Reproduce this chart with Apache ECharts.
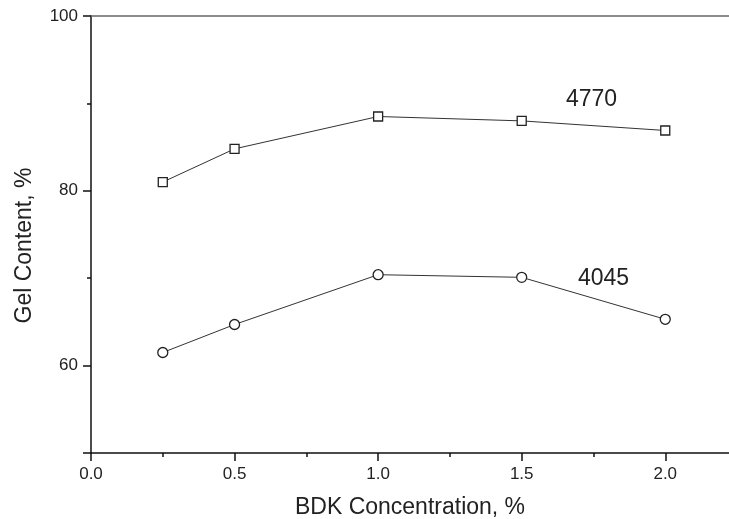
<!DOCTYPE html>
<html>
<head>
<meta charset="utf-8">
<script src="https://cdn.jsdelivr.net/npm/echarts@6/dist/echarts.min.js"></script>
<style>
  html, body { margin: 0; padding: 0; background: #fff; }
  #chart { width: 729px; height: 519px; }
</style>
</head>
<body>
<div id="chart"></div>
<script>
// BDK concentration (%) on the x axis
const concentrations = [0.25, 0.5, 1.0, 1.5, 2.0];
// Gel content (%) for each resin grade
const gel4770 = [81.0, 84.8, 88.5, 88.0, 86.9];
const gel4045 = [61.5, 64.7, 70.4, 70.1, 65.3];
// Axis ticks
const xMajorTicks = [0, 0.5, 1.0, 1.5, 2.0];
const xMinorTicks = [0.25, 0.75, 1.25, 1.75];
const yMajorTicks = [50, 60, 80, 100];
const yLabelTicks = [60, 80, 100];
const yMinorTicks = [70, 90];

const X_MAX = 2.222;
const FONT = 'Liberation Sans, Arial, sans-serif';
const chart = echarts.init(document.getElementById('chart'));

const pair = arr => concentrations.map((x, i) => [x, arr[i]]);

chart.setOption({
  animation: false,
  backgroundColor: '#fff',
  grid: { left: 91, right: 0, top: 16, bottom: 66, containLabel: false, outerBoundsMode: 'none' },
  xAxis: [
    {
      type: 'value', min: 0, max: X_MAX,
      name: 'BDK Concentration, %', nameLocation: 'middle', nameGap: 43,
      nameTextStyle: { fontFamily: FONT, fontSize: 23, color: '#222' },
      axisLine: { show: true, onZero: false, lineStyle: { color: '#111', width: 1.5 } },
      axisTick: { show: true, inside: false, length: 8, customValues: xMajorTicks, lineStyle: { color: '#111', width: 1.5 } },
      axisLabel: { customValues: xMajorTicks, margin: 13, fontFamily: FONT, fontSize: 17, color: '#222',
                   formatter: v => v.toFixed(1) },
      splitLine: { show: false }
    },
    {
      // short intermediate ticks
      type: 'value', min: 0, max: X_MAX, position: 'bottom',
      axisLine: { show: false },
      axisTick: { show: true, length: 4, customValues: xMinorTicks, lineStyle: { color: '#111', width: 1.5 } },
      axisLabel: { show: false },
      splitLine: { show: false }
    },
    {
      // top frame line
      type: 'value', min: 0, max: X_MAX, position: 'top',
      axisLine: { show: true, lineStyle: { color: '#666', width: 1.5 } },
      axisTick: { show: false }, axisLabel: { show: false }, splitLine: { show: false }
    }
  ],
  yAxis: [
    {
      type: 'value', min: 50, max: 100, interval: 10,
      name: 'Gel Content, %', nameLocation: 'middle', nameGap: 55, nameRotate: 90,
      nameTextStyle: { fontFamily: FONT, fontSize: 23, color: '#222', padding: [0, 22, 0, 0] },
      axisLine: { show: true, lineStyle: { color: '#111', width: 1.5 } },
      axisTick: { show: true, length: 8, customValues: yMajorTicks, lineStyle: { color: '#111', width: 1.5 } },
      axisLabel: { customValues: yLabelTicks, margin: 13, fontFamily: FONT, fontSize: 17, color: '#222' },
      splitLine: { show: false }
    },
    {
      type: 'value', min: 50, max: 100, position: 'left',
      axisLine: { show: false },
      axisTick: { show: true, length: 4, customValues: yMinorTicks, lineStyle: { color: '#111', width: 1.5 } },
      axisLabel: { show: false },
      splitLine: { show: false }
    }
  ],
  series: [
    {
      name: '4770', type: 'line', data: pair(gel4770),
      symbol: 'rect', symbolSize: 9,
      itemStyle: { color: '#fff', borderColor: '#222', borderWidth: 1.3 },
      lineStyle: { color: '#333', width: 1 },
      z: 3
    },
    {
      name: '4045', type: 'line', data: pair(gel4045),
      symbol: 'circle', symbolSize: 10,
      itemStyle: { color: '#fff', borderColor: '#222', borderWidth: 1.3 },
      lineStyle: { color: '#333', width: 1 },
      z: 3
    }
  ],
  graphic: [
    { type: 'text', left: 566, top: 88, style: { text: '4770', font: '23px ' + FONT, fill: '#222' } },
    { type: 'text', left: 578, top: 267, style: { text: '4045', font: '23px ' + FONT, fill: '#222' } }
  ]
});
</script>
</body>
</html>
